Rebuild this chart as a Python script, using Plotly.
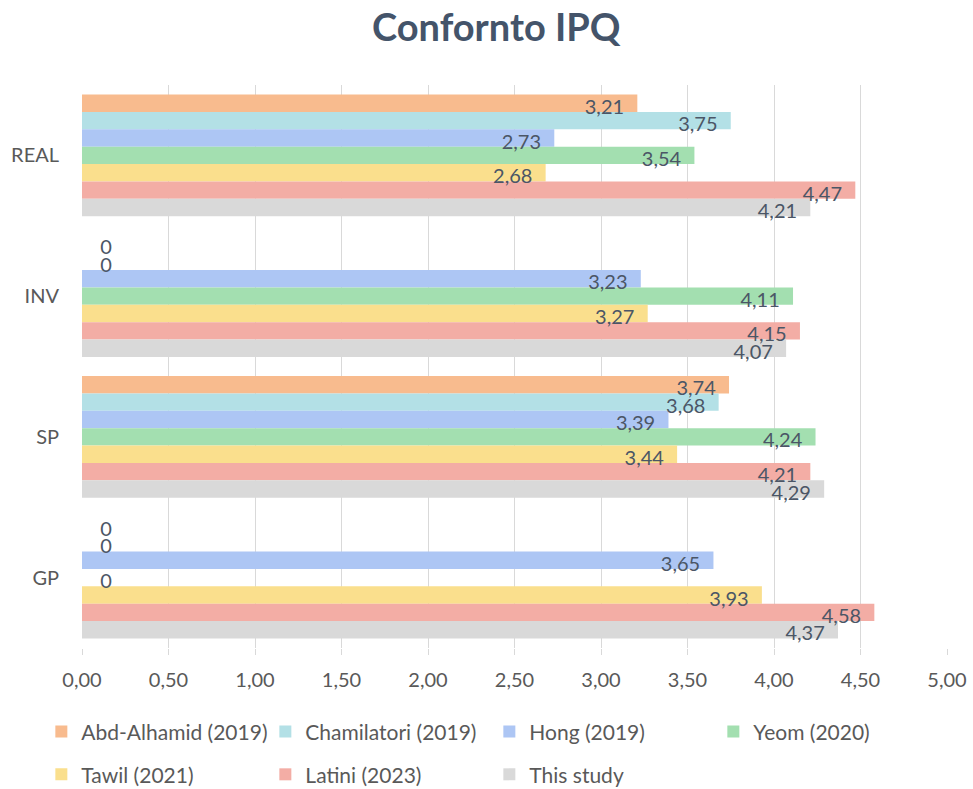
import plotly.graph_objects as go

categories = ["REAL", "INV", "SP", "GP"]

studies = ["Abd-Alhamid (2019)", "Chamilatori (2019)", "Hong (2019)", "Yeom (2020)",
           "Tawil (2021)", "Latini (2023)", "This study"]

abd_alhamid = [3.21, 0, 3.74, 0]
chamilatori = [3.75, 0, 3.68, 0]
hong = [2.73, 3.23, 3.39, 3.65]
yeom = [3.54, 4.11, 4.24, 0]
tawil = [2.68, 3.27, 3.44, 3.93]
latini = [4.47, 4.15, 4.21, 4.58]
this_study = [4.21, 4.07, 4.29, 4.37]

x_ticks = [0, 0.5, 1, 1.5, 2, 2.5, 3, 3.5, 4, 4.5, 5]

series = [abd_alhamid, chamilatori, hong, yeom, tawil, latini, this_study]
colors = ["#F8BB8E", "#B3E0E6", "#ADC6F4", "#A3DFB0", "#FADF8D", "#F3ADA5", "#D9D9D9"]

font = "Lato, 'Open Sans', sans-serif"
text_col = "#4B5666"

fig = go.Figure()
# coloured bars
for i, (name, vals, col) in enumerate(zip(studies, series, colors)):
    fig.add_trace(go.Bar(
        y=categories, x=vals, name=name, orientation="h",
        marker=dict(color=col, line=dict(width=0)),
        hoverinfo="x+name",
        legend="legend" if i < 4 else "legend2",
    ))

# labels on an overlaid axis so they sit on top of every bar
for name, vals in zip(studies, series):
    labels = [f"{v:.2f}".replace(".", ",") if v else "0" for v in vals]
    fig.add_trace(go.Bar(
        y=categories, x=vals, name=name, orientation="h", yaxis="y2",
        marker=dict(color="rgba(0,0,0,0)", line=dict(width=0)),
        text=[l + "\u00a0\u00a0" if v else "\u00a0\u00a0\u00a0" + l for l, v in zip(labels, vals)],
        textposition=["inside" if v else "outside" for v in vals],
        insidetextanchor="end",
        constraintext="none",
        textangle=0,
        textfont=dict(family=font, size=20, color=text_col),
        cliponaxis=False,
        hoverinfo="skip",
        showlegend=False,
    ))

legend_style = dict(orientation="h", x=-0.047, xanchor="left", yanchor="middle",
                    entrywidth=179, entrywidthmode="pixels",
                    font=dict(size=21, color="#595959"),
                    itemsizing="constant", traceorder="normal",
                    bgcolor="rgba(0,0,0,0)")

fig.update_layout(
    barmode="group",
    bargap=0.135,
    bargroupgap=0,
    width=973, height=789,
    margin=dict(l=82, r=26, t=85, b=141, autoexpand=False),
    paper_bgcolor="white",
    plot_bgcolor="white",
    font=dict(family=font, size=20, color="#595959"),
    title=dict(text="<b>Confornto IPQ</b>", x=0.51, xanchor="center", y=0.965, yanchor="middle",
               font=dict(family=font, size=38, color="#44546A")),
    xaxis=dict(range=[0, 5], tickvals=x_ticks,
               ticktext=[f"{t:.2f}".replace(".", ",") for t in x_ticks],
               showgrid=True, gridcolor="#D9D9D9", gridwidth=1,
               zeroline=False, showline=False, automargin=False,
               ticks="outside", ticklen=6, tickcolor="#D9D9D9",
               ticklabelstandoff=8,
               tickfont=dict(size=20, color="#595959")),
    yaxis=dict(range=[3.5, -0.5], showgrid=False, zeroline=False, showline=False,
               automargin=False, ticklabelstandoff=22,
               tickfont=dict(size=20, color="#595959")),
    # labels sit a couple of pixels low, as in the original
    yaxis2=dict(overlaying="y", range=[3.482, -0.518], visible=False, automargin=False),
    legend=dict(legend_style, y=-0.149),
    legend2=dict(legend_style, y=-0.225),
    showlegend=True,
)

fig.write_html("out.html", config={"displayModeBar": False},
               post_script="document.body.style.margin='0';")
